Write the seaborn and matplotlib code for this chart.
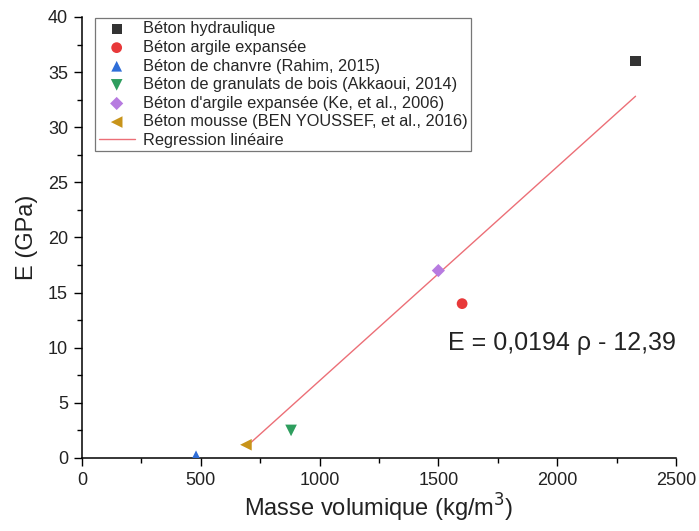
import matplotlib
matplotlib.use('Agg')
import matplotlib.pyplot as plt
import numpy as np
import pandas as pd
import seaborn as sns

# Data
materials = [
    'Béton hydraulique',
    'Béton argile expansée',
    'Béton de chanvre (Rahim, 2015)',
    'Béton de granulats de bois (Akkaoui, 2014)',
    "Béton d'argile expansée (Ke, et al., 2006)",
    'Béton mousse (BEN YOUSSEF, et al., 2016)',
]
density = [2330, 1600, 480, 880, 1500, 690]
modulus = [36.0, 14.0, 0.2, 2.5, 17.0, 1.2]
colors = ['#333333', '#e8393a', '#2f6ed8', '#2e9e5e', '#b77be0', '#c8941a']
markers = ['s', 'o', '^', 'v', 'D', '<']
marker_sizes = [55, 60, 60, 70, 45, 70]

# Linear regression E = 0.0194 rho - 12.39
slope = 0.0194
intercept = -12.39
fit_x = [700, 2330]

df = pd.DataFrame({'material': materials, 'density': density, 'E': modulus})
fit_df = pd.DataFrame({'density': fit_x})
fit_df['E'] = slope * fit_df['density'] + intercept

sns.set_style('white')
plt.rcParams['font.family'] = ['Liberation Sans', 'DejaVu Sans']

fig = plt.figure(figsize=(6.99, 5.31), dpi=100)
ax = fig.add_axes([0.1173, 0.1375, 0.8497, 0.8305])

for i, row in df.iterrows():
    sns.scatterplot(data=df.iloc[[i]], x='density', y='E', ax=ax,
                    color=colors[i], marker=markers[i], s=marker_sizes[i],
                    edgecolor='none', label=row['material'], zorder=3)

sns.lineplot(data=fit_df, x='density', y='E', ax=ax, color='#ec6f77',
             linewidth=1.0, label='Regression linéaire', zorder=2)

ax.set_xlim(0, 2500)
ax.set_ylim(0, 40)
ax.set_xticks([0, 500, 1000, 1500, 2000, 2500])
ax.set_xticks(np.arange(250, 2500, 500), minor=True)
ax.set_yticks(np.arange(0, 41, 5))
ax.set_yticks(np.arange(2.5, 40, 5), minor=True)
ax.tick_params(axis='both', which='major', direction='out', length=6, width=1,
               labelsize=13, labelcolor='#222222', color='black',
               bottom=True, left=True, pad=4)
ax.tick_params(axis='both', which='minor', direction='out', length=3.5, width=1,
               color='black', bottom=True, left=True)

for side in ['top', 'right']:
    ax.spines[side].set_visible(False)
for side in ['left', 'bottom']:
    ax.spines[side].set_color('black')
    ax.spines[side].set_linewidth(1.1)

ax.set_xlabel('Masse volumique (kg/m$^3$)', fontsize=17, color='#222222', labelpad=2)
ax.set_ylabel('E (GPa)', fontsize=17, color='#222222', labelpad=7)

ax.text(1540, 10.4, 'E = 0,0194 ρ - 12,39', fontsize=18, color='#222222',
        va='center')

leg = ax.legend(loc='upper left', bbox_to_anchor=(0.017, 1.005), fontsize=11.8,
                frameon=True, fancybox=False, edgecolor='#555555',
                borderpad=0.2, labelspacing=0.22, handlelength=2.2,
                handletextpad=0.5, borderaxespad=0.2)
leg.get_frame().set_linewidth(0.9)

fig.savefig('out.png', dpi=100)
